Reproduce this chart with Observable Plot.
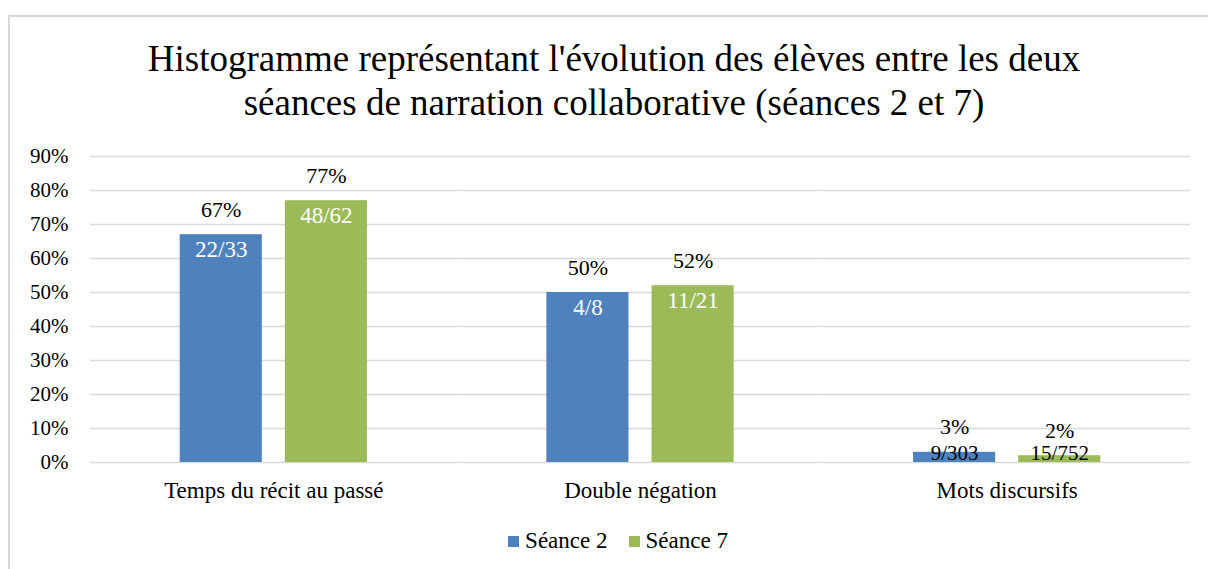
<!DOCTYPE html>
<html>
<head>
<meta charset="utf-8">
<script src="https://cdn.jsdelivr.net/npm/d3@7"></script>
<script src="https://cdn.jsdelivr.net/npm/@observablehq/plot@0.6"></script>
<style>
  html, body { margin: 0; padding: 0; background: #fff; width: 1208px; height: 569px; overflow: hidden; }
  body { position: relative; font-family: "Liberation Serif", "Times New Roman", serif; color: #000; }
  #frame { position: absolute; left: 8px; top: 15px; width: 1230px; height: 600px; border-left: 2px solid #d9d9d9; border-top: 2px solid #d9d9d9; box-sizing: border-box; z-index: 5; pointer-events: none; }
  #title { position: absolute; left: 8px; width: 1212px; top: 37px; text-align: center; font-size: 37px; line-height: 44px; }
  #chart { position: absolute; left: 0; top: 140px; }
  #legend { position: absolute; left: 0; width: 1236px; top: 528px; display: flex; justify-content: center; align-items: center; gap: 21px; font-size: 23px; line-height: 26px; }
  .item { display: flex; align-items: center; }
  .sw { width: 11px; height: 11px; margin-right: 6px; }
</style>
</head>
<body>
<div id="frame"></div>
<div id="title">Histogramme représentant l'évolution des élèves entre les deux<br>séances de narration collaborative (séances 2 et 7)</div>
<div id="chart"></div>
<div id="legend"></div>
<script>
const categories = ["Temps du récit au passé", "Double négation", "Mots discursifs"];
const series = ["Séance 2", "Séance 7"];
const seance2 = [0.67, 0.50, 0.03];
const seance7 = [0.77, 0.52, 0.02];
const fractions2 = ["22/33", "4/8", "9/303"];
const fractions7 = ["48/62", "11/21", "15/752"];
const yTicks = [0, 0.1, 0.2, 0.3, 0.4, 0.5, 0.6, 0.7, 0.8, 0.9];
const colors = ["#4f81bd", "#9bbb59"];

const data = [];
categories.forEach((c, i) => {
  data.push({category: c, series: series[0], value: seance2[i], frac: fractions2[i]});
  data.push({category: c, series: series[1], value: seance7[i], frac: fractions7[i]});
});
const tall = data.filter(d => d.value >= 0.1);
const short = data.filter(d => d.value < 0.1);

const font = "'Liberation Serif', 'Times New Roman', serif";
const chart = Plot.plot({
  width: 1208,
  height: 360,
  marginTop: 16,
  marginBottom: 38,
  marginLeft: 90,
  marginRight: 18,
  style: {fontFamily: font, fontSize: "21px", color: "#000", background: "transparent", overflow: "visible"},
  fx: {domain: categories, padding: 0, label: null, round: false},
  x: {domain: series, paddingInner: 0.219, paddingOuter: 0.853, axis: null, round: false},
  y: {domain: [0, 0.9], ticks: yTicks, tickFormat: d3.format(".0%"), label: null, tickSize: 0, tickPadding: 22},
  color: {domain: series, range: colors},
  marks: [
    Plot.ruleY(yTicks, {stroke: "#d9d9d9", strokeWidth: 1.3}),
    Plot.barY(data, {fx: "category", x: "series", y: "value", fill: "series"}),
    Plot.axisFx({anchor: "bottom", tickSize: 0, tickPadding: 19, fontSize: 23, label: null}),
    Plot.text(data, {fx: "category", x: "series", y: "value", text: d => d3.format(".0%")(d.value), dy: -25, fontSize: 22, fill: "#000"}),
    Plot.text(tall, {fx: "category", x: "series", y: "value", text: "frac", dy: 15, fontSize: 23, fill: "#fff"}),
    Plot.text(short, {fx: "category", x: "series", y: 0, text: "frac", dy: -9, fontSize: 21, fill: "#000"})
  ]
});
document.getElementById("chart").appendChild(chart);

const legend = document.getElementById("legend");
series.forEach((s, i) => {
  const item = document.createElement("div");
  item.className = "item";
  const sw = document.createElement("span");
  sw.className = "sw";
  sw.style.background = colors[i];
  const label = document.createElement("span");
  label.textContent = s;
  item.appendChild(sw);
  item.appendChild(label);
  legend.appendChild(item);
});
</script>
</body>
</html>
